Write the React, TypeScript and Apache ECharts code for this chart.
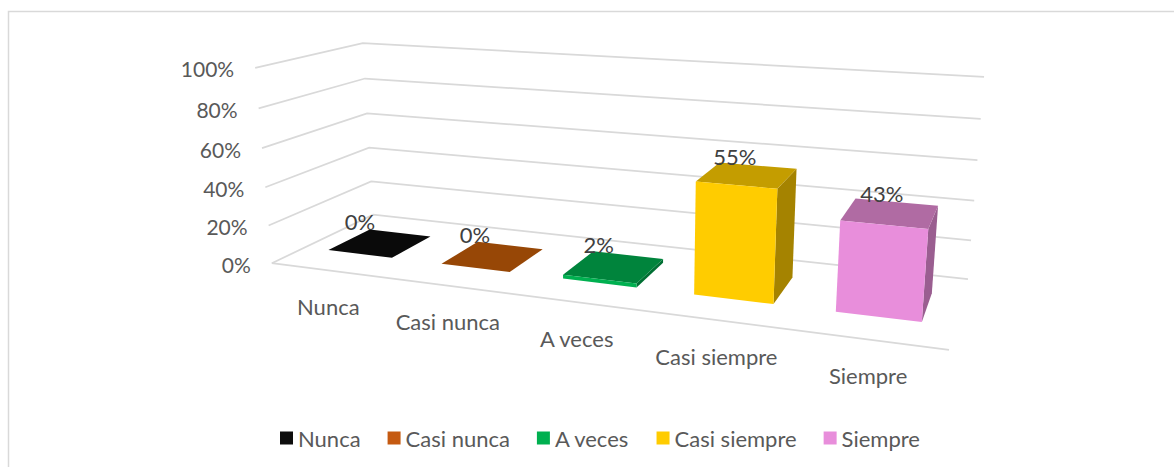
import React, { useEffect, useRef } from "react";
import * as echarts from "echarts";

const categories = ["Nunca", "Casi nunca", "A veces", "Casi siempre", "Siempre"];
const percentages = [0, 0, 2, 55, 43];
const yTicks = [0, 20, 40, 60, 80, 100];
const frontColors = ["#0D0D0D", "#C55A11", "#00B050", "#FFCC00", "#E88EDB"];
const topColors = ["#0A0A0A", "#974706", "#00843C", "#C49D00", "#B06BA3"];
const sideColors = ["#080808", "#7F3C05", "#006F33", "#A58300", "#9A5E90"];

const FONT = "Lato";
const TEXT_SIZE = 22;
const TICK_SIZE = 21;
const BAR_RATIO = 0.57;
const DEPTH_FRONT = 0.3;
const DEPTH_BACK = 0.72;

// Camera calibration of the 3D plot box: [u (0-5), depth (0-1), height (0-1), screenX, screenY]
const anchors = [
  [0, 0, 0, 272, 263],
  [5, 0, 0, 949, 350],
  [5, 1, 0, 968, 279],
  [0, 1, 0, 373, 215],
  [0, 0, 1, 255, 68],
  [0, 1, 1, 363, 43],
  [5, 1, 1, 984, 77],
];

function fitCamera(pts: number[][]) {
  const rows: number[][] = [];
  const rhs: number[] = [];
  pts.forEach(([u, d, v, x, y]) => {
    rows.push([u, d, v, 1, 0, 0, 0, 0, -x * u, -x * d, -x * v]);
    rhs.push(x);
    rows.push([0, 0, 0, 0, u, d, v, 1, -y * u, -y * d, -y * v]);
    rhs.push(y);
  });
  const n = 11;
  const m: number[][] = [];
  for (let i = 0; i < n; i++) {
    const row: number[] = [];
    for (let j = 0; j < n; j++) {
      row.push(rows.reduce((s, r) => s + r[i] * r[j], 0));
    }
    row.push(rows.reduce((s, r, k) => s + r[i] * rhs[k], 0));
    m.push(row);
  }
  for (let c = 0; c < n; c++) {
    let best = c;
    for (let r = c + 1; r < n; r++) if (Math.abs(m[r][c]) > Math.abs(m[best][c])) best = r;
    [m[c], m[best]] = [m[best], m[c]];
    for (let r = 0; r < n; r++) {
      if (r === c) continue;
      const f = m[r][c] / m[c][c];
      for (let k = c; k <= n; k++) m[r][k] -= f * m[c][k];
    }
  }
  return m.map((row, i) => row[n] / row[i]);
}

const cam = fitCamera(anchors);
function project(u: number, d: number, v: number): number[] {
  const w = cam[8] * u + cam[9] * d + cam[10] * v + 1;
  return [
    (cam[0] * u + cam[1] * d + cam[2] * v + cam[3]) / w,
    (cam[4] * u + cam[5] * d + cam[6] * v + cam[7]) / w,
  ];
}

function toBox(params: any, api: any, x: number, y: number) {
  const pt = api.coord([x, y]);
  const box = params.coordSys;
  return {
    u: ((pt[0] - box.x) / box.width) * categories.length,
    v: (box.y + box.height - pt[1]) / box.height,
  };
}

function renderGrid(params: any, api: any) {
  const tick = api.value(1);
  const { v } = toBox(params, api, 0, tick);
  const a = project(0, 0, v);
  const b = project(0, 1, v);
  const c = project(categories.length, 1, v);
  const lineStyle = { stroke: "#D9D9D9", lineWidth: 1.75, fill: "none" };
  const children: any[] = [
    { type: "polyline", shape: { points: [a, b, c] }, style: lineStyle },
    {
      type: "text",
      x: a[0] - 21,
      y: a[1] + 1,
      style: {
        text: `${tick}%`,
        fill: "#595959",
        fontFamily: FONT,
        fontSize: TICK_SIZE,
        align: "right",
        verticalAlign: "middle",
      },
    },
  ];
  if (tick === 0) {
    const e = project(categories.length, 0, 0);
    children.push({ type: "polyline", shape: { points: [a, e] }, style: lineStyle });
  }
  return { type: "group", children };
}

function makeBarRenderer(index: number) {
  return (params: any, api: any) => {
    const value = api.value(1);
    const { u, v } = toBox(params, api, api.value(0), value);
    const half = (BAR_RATIO * api.size([1, 0])[0] * categories.length) / params.coordSys.width / 2;
    const u0 = u - half;
    const u1 = u + half;
    const fb = project(u0, DEPTH_FRONT, 0);
    const fbr = project(u1, DEPTH_FRONT, 0);
    const ft = project(u0, DEPTH_FRONT, v);
    const ftr = project(u1, DEPTH_FRONT, v);
    const bt = project(u0, DEPTH_BACK, v);
    const btr = project(u1, DEPTH_BACK, v);
    const bbr = project(u1, DEPTH_BACK, 0);
    const labelAnchor = project(index * 1.07 + 0.12, DEPTH_BACK, v);
    const catAnchor = project(u, 0, 0);
    return {
      type: "group",
      children: [
        { type: "polygon", shape: { points: [ftr, btr, bbr, fbr] }, style: { fill: sideColors[index] } },
        { type: "polygon", shape: { points: [ft, ftr, btr, bt] }, style: { fill: topColors[index] } },
        { type: "polygon", shape: { points: [ft, ftr, fbr, fb] }, style: { fill: frontColors[index] } },
        {
          type: "text",
          x: labelAnchor[0],
          y: labelAnchor[1] - 7,
          style: {
            text: `${value}%`,
            fill: "#404040",
            fontFamily: FONT,
            fontSize: TEXT_SIZE,
            align: "center",
            verticalAlign: "middle",
          },
        },
        {
          type: "text",
          x: catAnchor[0],
          y: catAnchor[1] + 36,
          style: {
            text: categories[index],
            fill: "#595959",
            fontFamily: FONT,
            fontSize: TEXT_SIZE,
            align: "center",
            verticalAlign: "middle",
          },
        },
      ],
    };
  };
}

export default function App() {
  const ref = useRef<HTMLDivElement>(null);
  useEffect(() => {
    const chart = echarts.init(ref.current!, null, { renderer: "svg" });
    chart.setOption({
      animation: false,
      backgroundColor: "#FFFFFF",
      grid: { left: 0, top: 0, width: 500, height: 100 },
      xAxis: { type: "category", data: categories, show: false },
      yAxis: { type: "value", min: 0, max: 100, interval: 20, show: false },
      legend: {
        left: 280,
        top: 427,
        padding: 0,
        itemWidth: 13,
        itemHeight: 13,
        itemGap: 27,
        selectedMode: false,
        icon: "rect",
        data: categories,
        textStyle: { color: "#595959", fontFamily: FONT, fontSize: TEXT_SIZE },
      },
      graphic: [
        {
          type: "polyline",
          silent: true,
          shape: { points: [[8.5, 467], [8.5, 11.5], [1174, 11.5]] },
          style: { stroke: "#D9D9D9", lineWidth: 1.5, fill: "none" },
        },
      ],
      series: [
        {
          type: "custom",
          name: "Ejes",
          silent: true,
          z: 1,
          renderItem: renderGrid,
          data: yTicks.map((t) => [0, t]),
        },
        ...categories.map((name, i) => ({
          type: "custom",
          name,
          z: 2 + i,
          silent: true,
          itemStyle: { color: frontColors[i] },
          renderItem: makeBarRenderer(i),
          data: [[i, percentages[i]]],
        })),
      ],
    });
    return () => chart.dispose();
  }, []);
  return <div ref={ref} style={{ position: "fixed", left: 0, top: 0, width: 1174, height: 467 }} />;
}
